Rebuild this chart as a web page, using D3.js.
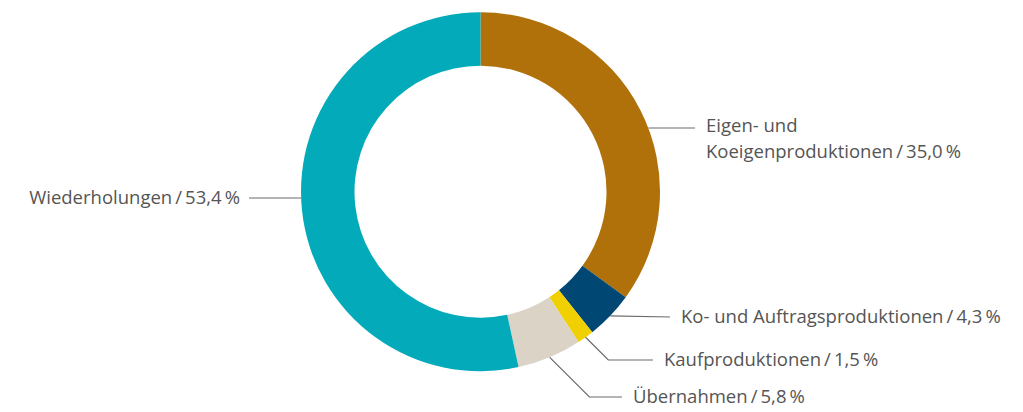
<!DOCTYPE html>
<html>
<head>
<meta charset="utf-8">
<script src="https://cdn.jsdelivr.net/npm/d3@7"></script>
<style>
  body { margin: 0; background: #fff; }
  text { font-family: "Open Sans", sans-serif; font-size: 18.5px; fill: #555; }
</style>
</head>
<body>
<div id="chart"></div>
<script>
// data, clockwise from 12 o'clock
const categories = ["Eigen- und Koeigenproduktionen", "Ko- und Auftragsproduktionen", "Kaufproduktionen", "Übernahmen", "Wiederholungen"];
const shares = [35.0, 4.3, 1.5, 5.8, 53.4];
const valueLabels = ["35,0", "4,3", "1,5", "5,8", "53,4"];
const colors = ["#b0700a", "#004873", "#f0d000", "url(#beige)", "#03aab9"];

// label layout: where the horizontal leader sits and which side the text goes
const labelLayout = [
  { lineY: 128, lineEnd: 695, side: "right", mode: "flat", lines: ["Eigen- und", "Koeigenproduktionen"] },
  { lineY: 317, lineEnd: 670, side: "right", mode: "elbow" },
  { lineY: 360, lineEnd: 653, side: "right", mode: "elbow" },
  { lineY: 397, lineEnd: 622, side: "right", mode: "elbow" },
  { lineY: 198, lineEnd: 249, side: "left", mode: "flat" }
];

const width = 1023, height = 412;
const cx = 480.5, cy = 191.7;
const outerR = 179.5, innerR = 126;

const svg = d3.select("#chart").append("svg")
  .attr("width", width)
  .attr("height", height);

const grad = svg.append("defs").append("linearGradient")
  .attr("id", "beige")
  .attr("gradientUnits", "userSpaceOnUse")
  .attr("x1", cx + 30).attr("y1", cy + 150)
  .attr("x2", cx + 100).attr("y2", cy + 130);
grad.append("stop").attr("offset", "0%").attr("stop-color", "#dad3c6");
grad.append("stop").attr("offset", "100%").attr("stop-color", "#e9e6df");

const pie = d3.pie().sort(null).value(d => d);
const arcs = pie(shares);

const arc = d3.arc().innerRadius(innerR).outerRadius(outerR);

const g = svg.append("g").attr("transform", `translate(${cx},${cy})`);

g.selectAll("path")
  .data(arcs)
  .enter().append("path")
  .attr("d", arc)
  .attr("fill", (d, i) => colors[i]);

// leader lines + labels
const fmt = (i) => `${categories[i]}\u2009/\u2009${valueLabels[i]}\u2009%`;

arcs.forEach((a, i) => {
  const L = labelLayout[i];
  const ly = L.lineY - cy;
  let pts;
  if (L.mode === "flat") {
    const dx = Math.sqrt(outerR * outerR - ly * ly) * (L.side === "left" ? -1 : 1);
    pts = [[dx, ly], [L.lineEnd - cx, ly]];
  } else {
    const mid = (a.startAngle + a.endAngle) / 2;
    const sx = outerR * Math.sin(mid), sy = -outerR * Math.cos(mid);
    // 45°-ish diagonal down to the horizontal run
    const ex = sx + (ly - sy);
    pts = (Math.abs(ly - sy) < 2)
      ? [[sx, sy], [L.lineEnd - cx, ly]]
      : [[sx, sy], [ex, ly], [L.lineEnd - cx, ly]];
  }
  g.append("path")
    .attr("d", d3.line()(pts))
    .attr("fill", "none")
    .attr("stroke", "#6b6b6b")
    .attr("stroke-width", 1.2);

  const tx = L.side === "left" ? L.lineEnd - cx - 9 : L.lineEnd - cx + 11;
  const t = g.append("text")
    .attr("x", tx)
    .attr("y", ly + 6)
    .attr("text-anchor", L.side === "left" ? "end" : "start");
  if (L.lines) {
    t.append("tspan").attr("x", tx).attr("y", ly + 4).text(L.lines[0]);
    t.append("tspan").attr("x", tx).attr("dy", 26)
      .text(`${L.lines[1]}\u2009/\u2009${valueLabels[i]}\u2009%`);
  } else {
    t.text(fmt(i));
  }
});
</script>
</body>
</html>
